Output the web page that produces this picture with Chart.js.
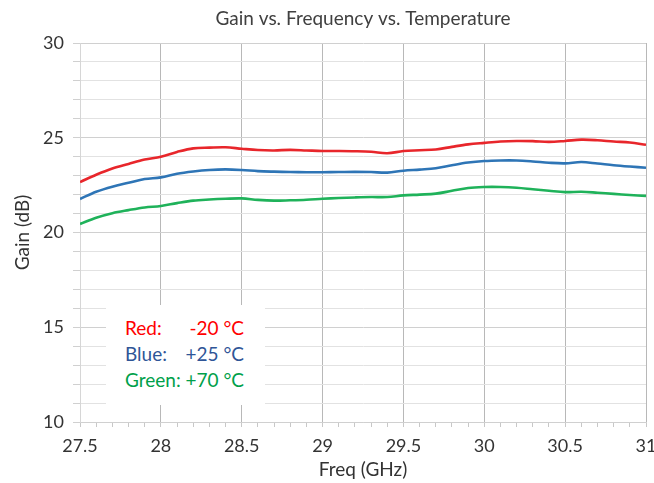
<!DOCTYPE html>
<html>
<head>
<meta charset="utf-8">
<script src="https://cdn.jsdelivr.net/npm/chart.js@4/dist/chart.umd.min.js"></script>
<style>
  html, body { margin: 0; padding: 0; background: #ffffff; }
  #wrap { position: relative; width: 654px; height: 483px; }
  #legend {
    position: absolute; left: 106px; top: 305px; width: 159px; height: 100px;
    background: #ffffff; font-family: Lato, "Open Sans", sans-serif; font-size: 19px;
  }
  #legend .row { position: absolute; left: 19px; width: 119px; height: 26px; line-height: 26px; }
  #legend .row .l { position: absolute; left: 0; }
  #legend .row .r { position: absolute; right: 0; }
</style>
</head>
<body>
<div id="wrap">
  <canvas id="c" width="654" height="483"></canvas>
  <div id="legend"></div>
</div>
<script>
const chartTitle = "Gain vs. Frequency vs. Temperature";
const xAxisTitle = "Freq (GHz)";
const yAxisTitle = "Gain (dB)";

const freqGHz = [27.5, 27.6, 27.7, 27.8, 27.9, 28.0, 28.1, 28.2, 28.3, 28.4,
                 28.5, 28.6, 28.7, 28.8, 28.9, 29.0, 29.1, 29.2, 29.3, 29.4,
                 29.5, 29.6, 29.7, 29.8, 29.9, 30.0, 30.1, 30.2, 30.3, 30.4,
                 30.5, 30.6, 30.7, 30.8, 30.9, 31.0];

const gainRed = [22.66, 23.05, 23.38, 23.62, 23.85, 24.00, 24.25, 24.44, 24.48, 24.50,
                 24.42, 24.35, 24.33, 24.36, 24.33, 24.30, 24.30, 24.29, 24.26, 24.18,
                 24.30, 24.34, 24.38, 24.52, 24.65, 24.73, 24.80, 24.83, 24.82, 24.78,
                 24.83, 24.90, 24.87, 24.80, 24.75, 24.63];

const gainBlue = [21.77, 22.15, 22.42, 22.62, 22.82, 22.91, 23.10, 23.22, 23.30, 23.33,
                  23.30, 23.24, 23.21, 23.19, 23.18, 23.18, 23.19, 23.20, 23.19, 23.16,
                  23.26, 23.32, 23.39, 23.55, 23.69, 23.77, 23.80, 23.80, 23.75, 23.68,
                  23.65, 23.72, 23.64, 23.55, 23.48, 23.42];

const gainGreen = [20.45, 20.78, 21.02, 21.18, 21.32, 21.40, 21.55, 21.68, 21.74, 21.78,
                   21.80, 21.72, 21.68, 21.70, 21.73, 21.78, 21.82, 21.85, 21.87, 21.87,
                   21.96, 22.00, 22.05, 22.20, 22.35, 22.40, 22.40, 22.36, 22.28, 22.20,
                   22.13, 22.15, 22.10, 22.04, 21.98, 21.93];

const legendLabels = ["Red:", "Blue:", "Green:"];
const legendTemps = ["-20 °C", "+25 °C", "+70 °C"];
const lineColors = ["#e8262b", "#2e75b6", "#1fb25a"];
const legendTextColors = ["#ff0000", "#2f5597", "#00a04a"];

// Legend box (real text)
const legendEl = document.getElementById('legend');
legendLabels.forEach((lab, i) => {
  const row = document.createElement('div');
  row.className = 'row';
  row.style.top = (10 + i * 26) + 'px';
  row.style.color = legendTextColors[i];
  row.innerHTML = '<span class="l"></span><span class="r"></span>';
  row.querySelector('.l').textContent = lab;
  row.querySelector('.r').textContent = legendTemps[i];
  legendEl.appendChild(row);
});

function toPoints(ys) { return freqGHz.map((x, i) => ({ x: x, y: ys[i] })); }
function isHalf(v) { return Math.abs(v * 2 - Math.round(v * 2)) < 1e-6; }

const seriesList = [gainRed, gainBlue, gainGreen];
const font = "Lato, 'Open Sans', sans-serif";

new Chart(document.getElementById('c'), {
  type: 'line',
  data: {
    datasets: seriesList.map((s, i) => ({
      data: toPoints(s),
      borderColor: lineColors[i],
      borderWidth: 2.6,
      pointRadius: 0,
      tension: 0.35,
      fill: false
    }))
  },
  options: {
    responsive: false,
    animation: false,
    layout: { padding: { left: 0, right: 8, top: 0, bottom: 0 } },
    plugins: {
      legend: { display: false },
      tooltip: { enabled: false },
      title: {
        display: true,
        fullSize: false,
        text: chartTitle,
        color: '#404040',
        font: { family: font, size: 19, weight: 'normal', lineHeight: 1.2 },
        padding: { top: 7, bottom: 13.2 }
      }
    },
    scales: {
      x: {
        type: 'linear',
        min: 27.5, max: 31,
        afterFit: (s) => { s.height = 61; s.paddingLeft = 0; s.paddingRight = 0; },
        afterBuildTicks: (s) => {
          s.ticks = freqGHz.map(v => ({ value: v }));
        },
        ticks: {
          autoSkip: false,
          maxRotation: 0,
          padding: 8,
          color: '#333333',
          font: { family: font, size: 18 },
          callback: (v) => isHalf(v) ? String(Math.round(v * 10) / 10) : ''
        },
        grid: {
          drawTicks: true,
          tickLength: 5,
          tickColor: '#c8c8c8',
          color: (ctx) => {
            const v = ctx.tick ? ctx.tick.value : 0;
            if (Math.abs(v - 27.5) < 1e-6) return '#d6d6d6';
            return isHalf(v) ? '#b8b8b8' : 'rgba(0,0,0,0)';
          }
        },
        border: { display: true, color: '#d0d0d0' },
        title: {
          display: true,
          text: xAxisTitle,
          color: '#333333',
          font: { family: font, size: 19 },
          padding: { top: 0, bottom: 2 }
        }
      },
      y: {
        min: 10, max: 30,
        afterFit: (s) => { s.width = 80; s.paddingTop = 0; s.paddingBottom = 0; },
        ticks: {
          stepSize: 1,
          autoSkip: false,
          padding: 9,
          color: '#333333',
          font: { family: font, size: 18 },
          callback: (v) => (v % 5 === 0 ? String(v) : '')
        },
        grid: {
          drawTicks: true,
          tickLength: 7,
          tickColor: '#d0d0d0',
          color: (ctx) => {
            const v = ctx.tick ? ctx.tick.value : 0;
            return v % 5 === 0 ? '#d0d0d0' : '#e2e2e2';
          }
        },
        border: { display: true, color: '#d6d6d6' },
        title: {
          display: true,
          text: yAxisTitle,
          color: '#333333',
          font: { family: font, size: 19 },
          padding: { top: 11, bottom: 0 }
        }
      }
    }
  }
});
</script>
</body>
</html>
